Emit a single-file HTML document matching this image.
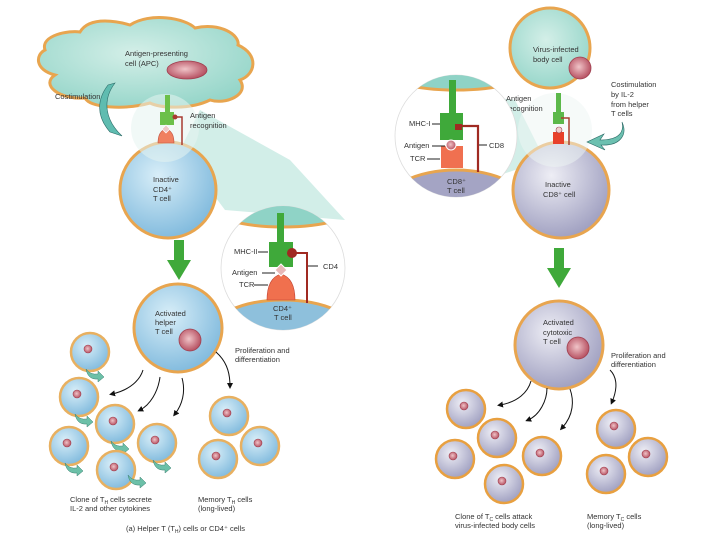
<!DOCTYPE html>
<html><head><meta charset="utf-8"><style>body{margin:0;background:#fff}svg{display:block}text{font-family:"Liberation Sans",sans-serif;font-size:7.5px;fill:#333}</style></head><body>
<svg width="720" height="540" viewBox="0 0 720 540" xmlns="http://www.w3.org/2000/svg">
<defs>
<radialGradient id="bl" cx="40%" cy="35%" r="70%"><stop offset="0" stop-color="#d8eef8"/><stop offset="1" stop-color="#7db8dc"/></radialGradient>
<radialGradient id="lv" cx="40%" cy="35%" r="70%"><stop offset="0" stop-color="#eeeef5"/><stop offset="1" stop-color="#9c9cbe"/></radialGradient>
<radialGradient id="tl" cx="45%" cy="40%" r="70%"><stop offset="0" stop-color="#d4efe8"/><stop offset="1" stop-color="#8fd3c6"/></radialGradient>
<radialGradient id="nu" cx="45%" cy="45%" r="60%"><stop offset="0" stop-color="#f0c4c8"/><stop offset="1" stop-color="#b2485a"/></radialGradient>
<g id="sb"><circle r="19" fill="url(#bl)" stroke="#e8b060" stroke-width="2.5"/><circle cx="-2" cy="-3" r="4" fill="url(#nu)" stroke="#a04050" stroke-width=".6"/></g>
<g id="sl"><circle r="19" fill="url(#lv)" stroke="#e8a040" stroke-width="2.5"/><circle cx="-2" cy="-3" r="4" fill="url(#nu)" stroke="#a04050" stroke-width=".6"/></g>
<path id="ta" d="M0,0 q4,6 12,5 l0,-3 l6,6 l-6,5 l0,-3 q-10,1 -12,-10z" fill="#6cc0a8" stroke="#3a8070" stroke-width=".5"/>
<marker id="ah" markerWidth="6" markerHeight="6" refX="3" refY="3" orient="auto"><path d="M0,0 L6,3 L0,6z" fill="#111"/></marker>
</defs>
<!-- LEFT -->
<polygon points="180,150 225,210 345,220 290,160 200,110" fill="#bfe7de" opacity=".7"/>
<path d="M45,50 C40,35 70,30 80,32 C90,15 120,22 130,25 C150,12 185,18 195,28 C220,22 240,35 238,45 C260,55 255,75 240,80 C250,95 225,105 210,100 C190,110 160,108 150,103 C125,110 90,108 85,98 C60,100 40,85 55,75 C35,70 35,55 45,50Z" fill="url(#tl)" stroke="#e8a54f" stroke-width="3"/>
<ellipse cx="187" cy="70" rx="20" ry="9" fill="url(#nu)" stroke="#a04050" stroke-width=".8"/>
<text x="125" y="56">Antigen-presenting</text><text x="125" y="66">cell (APC)</text>
<text x="55" y="99">Costimulation</text>
<path d="M115,83 C102,100 105,120 122,136 L110,132 C95,115 98,98 108,85Z" fill="#5fbcb0" stroke="#2a6a66" stroke-width=".6"/>
<circle cx="168" cy="190" r="48" fill="url(#bl)" stroke="#e8a54f" stroke-width="3"/>
<circle cx="165" cy="128" r="34" fill="#e5f4f0" opacity=".55"/>
<rect x="165" y="95" width="5" height="18" fill="#6cc04a"/><rect x="160" y="112" width="14" height="13" fill="#6cc04a"/>
<path d="M174,117 h8 v28" fill="none" stroke="#a83a30" stroke-width="1.5"/><circle cx="175" cy="117" r="2.5" fill="#a83a30"/>
<path d="M158,143 q0,-12 8,-14 q8,2 8,14z" fill="#f08060" stroke="#c05040" stroke-width=".6"/>
<path d="M166,125 l4,4 l-4,4 l-4,-4z" fill="#f0c8c8" stroke="#fff" stroke-width=".7"/>
<text x="190" y="118">Antigen</text><text x="190" y="128">recognition</text>
<text x="153" y="182">Inactive</text><text x="153" y="192">CD4⁺</text><text x="153" y="201">T cell</text>
<circle cx="283" cy="268" r="62" fill="#fff" stroke="#ddd" stroke-width=".8"/>
<clipPath id="c1"><circle cx="283" cy="268" r="62"/></clipPath>
<g clip-path="url(#c1)"><ellipse cx="283" cy="205" rx="75" ry="22" fill="#8fd3c6" stroke="#e8a54f" stroke-width="3"/><ellipse cx="283" cy="335" rx="75" ry="35" fill="#8ec0dc" stroke="#e8a54f" stroke-width="3"/></g>
<rect x="277" y="213" width="7" height="30" fill="#3fa93a"/><rect x="269" y="242" width="24" height="25" fill="#3fa93a"/>
<path d="M292,253 h15 v50" fill="none" stroke="#a02a22" stroke-width="2"/><circle cx="292" cy="253" r="5" fill="#a02a22"/>
<path d="M267,300 q0,-22 14,-26 q14,4 14,26z" fill="#f0704e" stroke="#c04030" stroke-width=".6"/>
<path d="M281,264 l6,6 l-6,6 l-6,-6z" fill="#e8b8b8" stroke="#fff" stroke-width="1"/>
<text x="234" y="254">MHC-II</text><line x1="258" y1="252" x2="268" y2="252" stroke="#222"/>
<text x="232" y="275">Antigen</text><line x1="262" y1="273" x2="275" y2="273" stroke="#222"/>
<text x="239" y="287">TCR</text><line x1="254" y1="285" x2="268" y2="285" stroke="#222"/>
<line x1="308" y1="266" x2="318" y2="266" stroke="#222"/><text x="323" y="269">CD4</text>
<text x="273" y="311">CD4⁺</text><text x="274" y="320">T cell</text>
<path d="M174,240 h10 v20 h7 l-12,20 l-12,-20 h7z" fill="#3fa93a"/>
<circle cx="178" cy="328" r="44" fill="url(#bl)" stroke="#e8a54f" stroke-width="3"/>
<circle cx="190" cy="340" r="11" fill="url(#nu)" stroke="#a04050" stroke-width=".8"/>
<text x="155" y="316">Activated</text><text x="155" y="325">helper</text><text x="155" y="334">T cell</text>
<text x="235" y="353">Proliferation and</text><text x="235" y="362">differentiation</text>
<g fill="none" stroke="#111" stroke-width="1" marker-end="url(#ah)">
<path d="M143,370 C140,380 130,390 112,394"/><path d="M160,377 C158,392 150,405 140,410"/><path d="M182,378 C186,392 182,405 175,414"/><path d="M216,352 C225,360 230,370 230,386"/></g>
<g>
<use href="#sb" x="90" y="352"/><use href="#ta" x="86" y="369"/>
<use href="#sb" x="79" y="397"/><use href="#ta" x="75" y="414"/>
<use href="#sb" x="115" y="424"/><use href="#ta" x="111" y="441"/>
<use href="#sb" x="69" y="446"/><use href="#ta" x="65" y="463"/>
<use href="#sb" x="157" y="443"/><use href="#ta" x="153" y="460"/>
<use href="#sb" x="116" y="470"/><use href="#ta" x="128" y="475"/>
<use href="#sb" x="229" y="416"/><use href="#sb" x="260" y="446"/><use href="#sb" x="218" y="459"/>
</g>
<text x="70" y="502">Clone of T<tspan font-size="5" dy="2">H</tspan><tspan dy="-2"> cells secrete</tspan></text><text x="70" y="511">IL-2 and other cytokines</text>
<text x="198" y="502">Memory T<tspan font-size="5" dy="2">H</tspan><tspan dy="-2"> cells</tspan></text><text x="198" y="511">(long-lived)</text>
<text x="126" y="531">(a) Helper T (T<tspan font-size="5" dy="2">H</tspan><tspan dy="-2">) cells or CD4⁺ cells</tspan></text>
<!-- RIGHT -->
<polygon points="515,100 545,160 470,185 440,90" fill="#bfe7de" opacity=".7"/>
<circle cx="550" cy="48" r="40" fill="url(#tl)" stroke="#e8a54f" stroke-width="3"/>
<circle cx="580" cy="68" r="11" fill="url(#nu)" stroke="#a04050" stroke-width=".8"/>
<text x="533" y="52">Virus-infected</text><text x="533" y="62">body cell</text>
<circle cx="561" cy="190" r="48" fill="url(#lv)" stroke="#e8a54f" stroke-width="3"/>
<circle cx="555" cy="130" r="37" fill="#eef5f3" opacity=".5"/>
<rect x="556" y="93" width="5" height="20" fill="#5cb84a"/><rect x="553" y="112" width="11" height="12" fill="#5cb84a"/>
<path d="M561,118 h8 v27" fill="none" stroke="#a84030" stroke-width="1.5"/>
<rect x="553" y="132" width="11" height="12" fill="#e8402a"/><circle cx="559" cy="130" r="3" fill="#f0d0d0" stroke="#a04050" stroke-width=".6"/>
<text x="506" y="101">Antigen</text><text x="506" y="111">recognition</text>
<text x="611" y="87">Costimulation</text><text x="611" y="97">by IL-2</text><text x="611" y="107">from helper</text><text x="611" y="116">T cells</text>
<path d="M622,122 C625,135 615,140 600,140 L604,134 L587,142 L605,150 L601,145 C620,146 628,135 622,122Z" fill="#6cc0b0" stroke="#2a6a66" stroke-width=".6"/>
<text x="545" y="187">Inactive</text><text x="543" y="197">CD8⁺ cell</text>
<circle cx="456" cy="136" r="61" fill="#fff" stroke="#ddd" stroke-width=".8"/>
<clipPath id="c2"><circle cx="456" cy="136" r="61"/></clipPath>
<g clip-path="url(#c2)"><ellipse cx="456" cy="70" rx="75" ry="20" fill="#8fd3c6" stroke="#e8a54f" stroke-width="3"/><ellipse cx="456" cy="210" rx="75" ry="40" fill="#a4a4c4" stroke="#e8a54f" stroke-width="3"/></g>
<rect x="449" y="80" width="7" height="35" fill="#3fa93a"/><rect x="440" y="113" width="23" height="27" fill="#3fa93a"/>
<rect x="455" y="124" width="7" height="6" fill="#a02a22"/><path d="M460,126 h18 v46" fill="none" stroke="#a02a22" stroke-width="2.2"/>
<rect x="441" y="146" width="22" height="22" fill="#f07050"/>
<circle cx="451" cy="145" r="5" fill="url(#nu)" stroke="#fff" stroke-width="1"/>
<text x="409" y="126">MHC-I</text><line x1="432" y1="124" x2="440" y2="124" stroke="#222"/>
<text x="404" y="148">Antigen</text><line x1="432" y1="146" x2="445" y2="146" stroke="#222"/>
<text x="410" y="161">TCR</text><line x1="427" y1="159" x2="440" y2="159" stroke="#222"/>
<line x1="479" y1="145" x2="487" y2="145" stroke="#222"/><text x="489" y="148">CD8</text>
<text x="447" y="184">CD8⁺</text><text x="447" y="193">T cell</text>
<path d="M554,248 h10 v20 h7 l-12,20 l-12,-20 h7z" fill="#3fa93a"/>
<circle cx="559" cy="345" r="44" fill="url(#lv)" stroke="#e8a54f" stroke-width="3"/>
<circle cx="578" cy="348" r="11" fill="url(#nu)" stroke="#a04050" stroke-width=".8"/>
<text x="543" y="325">Activated</text><text x="543" y="335">cytotoxic</text><text x="543" y="344">T cell</text>
<text x="611" y="358">Proliferation and</text><text x="611" y="367">differentiation</text>
<g fill="none" stroke="#111" stroke-width="1" marker-end="url(#ah)">
<path d="M531,381 C528,392 518,402 500,405"/><path d="M547,388 C547,400 540,415 528,420"/><path d="M570,389 C574,400 574,415 562,428"/><path d="M610,370 C620,380 615,395 612,402"/></g>
<use href="#sl" x="466" y="409"/><use href="#sl" x="497" y="438"/><use href="#sl" x="455" y="459"/><use href="#sl" x="542" y="456"/><use href="#sl" x="504" y="484"/>
<use href="#sl" x="616" y="429"/><use href="#sl" x="648" y="457"/><use href="#sl" x="606" y="474"/>
<text x="455" y="519">Clone of T<tspan font-size="5" dy="2">C</tspan><tspan dy="-2"> cells attack</tspan></text><text x="455" y="528">virus-infected body cells</text>
<text x="587" y="519">Memory T<tspan font-size="5" dy="2">C</tspan><tspan dy="-2"> cells</tspan></text><text x="587" y="528">(long-lived)</text>
</svg>
</body></html>
